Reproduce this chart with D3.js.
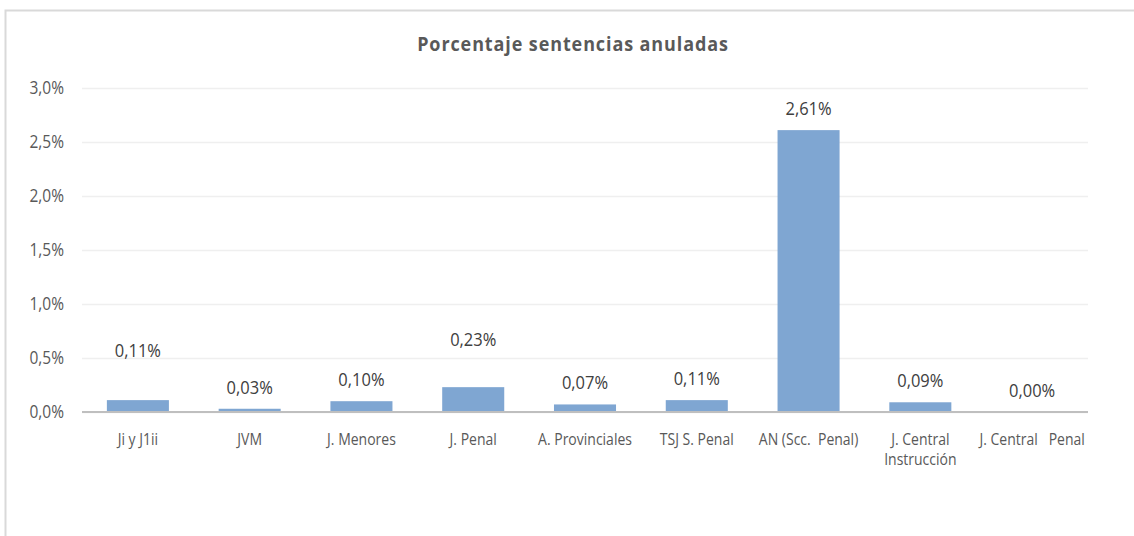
<!DOCTYPE html>
<html>
<head>
<meta charset="utf-8">
<script src="https://cdn.jsdelivr.net/npm/d3@7"></script>
<style>
  body { margin: 0; background: #fff; }
  svg text { font-family: "Open Sans", "Noto Sans", sans-serif; white-space: pre; }
</style>
</head>
<body>
<div id="chart"></div>
<script>
// data
const categories = ["Ji y J1ii", "JVM", "J. Menores", "J. Penal", "A. Provinciales",
                    "TSJ S. Penal", "AN (Scc.  Penal)", "J. Central\nInstrucción", "J. Central   Penal"];
const values = [0.0011, 0.0003, 0.0010, 0.0023, 0.0007, 0.0011, 0.0261, 0.0009, 0.0000];
const tickValues = [0, 0.005, 0.01, 0.015, 0.02, 0.025, 0.03];
const chartTitle = "Porcentaje sentencias anuladas";
// extra lift of some value labels (they were moved by hand in the original)
const labelLift = [28, 0, 0, 26, 0, 0, 0, 0, 0];

let width = 1134, height = 536;
let margin = {top: 88, right: 46, bottom: 124, left: 82};

let svg = d3.select("#chart").append("svg")
    .attr("width", width)
    .attr("height", height);

// the original text is drawn a bit tall and narrow
let stretch = (x, y, s) => "translate(" + x + "," + y + ") scale(1," + s + ")";

// chart frame (runs off the right and bottom of the picture)
svg.append("rect")
    .attr("x", 5.5).attr("y", 10.5)
    .attr("width", 1200).attr("height", 600)
    .attr("fill", "none")
    .attr("stroke", "#d9d9d9")
    .attr("stroke-width", 2);

svg.append("text")
    .attr("transform", stretch(573, 51, 1.1))
    .attr("text-anchor", "middle")
    .style("font-size", "18px")
    .style("font-weight", "bold")
    .style("letter-spacing", "0.9px")
    .style("fill", "#595959")
    .text(chartTitle);

let x = d3.scaleBand()
    .domain(categories)
    .range([margin.left, width - margin.right])
    .paddingInner(0.445)
    .paddingOuter(0.2225);

let y = d3.scaleLinear()
    .domain([0, 0.03])
    .range([height - margin.bottom, margin.top]);

let fmtTick = (d) => d3.format(".1f")(d * 100).replace(".", ",") + "%";
let fmtVal = (d) => d3.format(".2f")(d * 100).replace(".", ",") + "%";

// gridlines + y tick labels
let yAxis = d3.axisLeft(y)
    .tickValues(tickValues)
    .tickSize(-(width - margin.left - margin.right))
    .tickPadding(18)
    .tickFormat(fmtTick);

let gy = svg.append("g")
    .attr("transform", "translate(" + margin.left + ",0)")
    .call(yAxis);
gy.select(".domain").remove();
gy.selectAll(".tick line").attr("stroke", "#efefef").attr("stroke-width", 1.5);
gy.selectAll(".tick text")
    .attr("transform", "scale(1,1.12)")
    .style("font-size", "15.5px")
    .style("fill", "#595959");

// bars
svg.append("g")
    .selectAll("rect")
    .data(values)
    .enter()
    .append("rect")
    .attr("x", (d, i) => x(categories[i]))
    .attr("y", (d) => y(d))
    .attr("width", x.bandwidth())
    .attr("height", (d) => y(0) - y(d))
    .attr("fill", "#7fa6d2");

// baseline
svg.append("line")
    .attr("x1", margin.left).attr("x2", width - margin.right)
    .attr("y1", y(0)).attr("y2", y(0))
    .attr("stroke", "#bfbfbf")
    .attr("stroke-width", 2);

// value labels
svg.append("g")
    .selectAll("text")
    .data(values)
    .enter()
    .append("text")
    .attr("transform", (d, i) => stretch(x(categories[i]) + x.bandwidth() / 2, y(d) - 15 - labelLift[i], 1.15))
    .attr("text-anchor", "middle")
    .style("font-size", "16.5px")
    .style("fill", "#404040")
    .text(fmtVal);

// category labels
let cat = svg.append("g")
    .selectAll("text")
    .data(categories)
    .enter()
    .append("text")
    .attr("transform", (d) => stretch(x(d) + x.bandwidth() / 2, y(0) + 33, 1.15))
    .attr("text-anchor", "middle")
    .style("font-size", "14px")
    .style("fill", "#595959");

cat.each(function(d) {
    let t = d3.select(this);
    d.split("\n").forEach((line, k) => {
        t.append("tspan")
            .attr("x", 0)
            .attr("dy", k === 0 ? 0 : 17)
            .text(line);
    });
});
</script>
</body>
</html>
